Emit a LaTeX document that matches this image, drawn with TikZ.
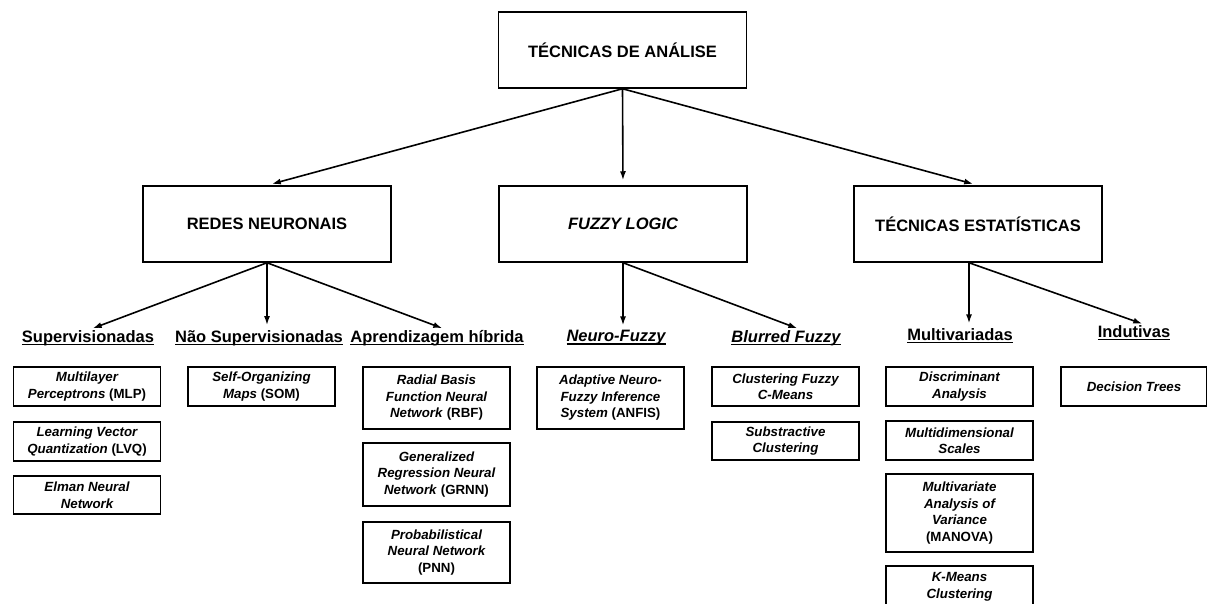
\documentclass[tikz,border=0pt]{standalone}
\usepackage{fontspec}
\setmainfont{Liberation Sans}
\newcommand{\undl}[1]{\setbox0\hbox{#1}\rlap{\rule[-2.8pt]{\wd0}{1.4pt}}\box0}
\usetikzlibrary{arrows.meta,positioning}

\begin{document}
\begin{tikzpicture}[x=1pt, y=-1pt,
  mainbox/.style={draw, line width=1.5pt, minimum width=248pt, minimum height=76pt, inner sep=2pt, font=\fontsize{16.5}{20}\selectfont\bfseries},
  leaf/.style={draw, line width=1.5pt, minimum width=147pt, inner sep=1pt, align=center, font=\fontsize{13.3}{16.5}\selectfont\bfseries\itshape},
  group/.style={inner sep=0pt, font=\fontsize{16.5}{20}\selectfont\bfseries},
  arr/.style={-{Latex[length=9pt,width=6pt]}, line width=1.6pt, shorten >=5pt},
]
\useasboundingbox (0,0) rectangle (1207,603);
\clip (0,0) rectangle (1207,603);

\node[mainbox] (tecnicas) at (622.5,50) {TÉCNICAS DE ANÁLISE};
\node[mainbox] (redes) at (267,224) {REDES NEURONAIS};
\node[mainbox] (fuzzy) at (623,224) {\itshape FUZZY LOGIC};
\node[mainbox] (estat) at (978,224) {TÉCNICAS ESTATÍSTICAS};

\node[group] (superv) at (88,338) {\undl{Supervisionadas}};
\node[group] (naosup) at (259,338) {\undl{Não Supervisionadas}};
\node[group] (hibrida) at (437,338) {\undl{Aprendizagem híbrida}};
\node[group] (neurofz) at (616,338) {\itshape\undl{Neuro-Fuzzy}};
\node[group] (blurred) at (786,338) {\itshape\undl{Blurred Fuzzy}};
\node[group] (multiv) at (960,336) {\undl{Multivariadas}};
\node[group] (indut) at (1134,333) {\undl{Indutivas}};

\node[leaf, minimum height=39pt] (mlp) at (87,386.5) {Multilayer\\Perceptrons \textup{(MLP)}};
\node[leaf, minimum height=39pt] (lvq) at (87,441.5) {Learning Vector\\Quantization \textup{(LVQ)}};
\node[leaf, minimum height=38pt] (elman) at (87,495) {Elman Neural\\Network};
\node[leaf, minimum height=39pt] (som) at (261.5,386.5) {Self-Organizing\\Maps \textup{(SOM)}};
\node[leaf, minimum height=62pt] (rbf) at (436.5,398) {Radial Basis\\Function Neural\\Network \textup{(RBF)}};
\node[leaf, minimum height=63pt] (grnn) at (436.5,474.5) {Generalized\\Regression Neural\\Network \textup{(GRNN)}};
\node[leaf, minimum height=61pt] (pnn) at (436.5,552.5) {Probabilistical\\Neural Network\\\textup{(PNN)}};
\node[leaf, minimum height=62pt] (anfis) at (610.5,398) {Adaptive Neuro-\\Fuzzy Inference\\System \textup{(ANFIS)}};
\node[leaf, minimum height=39pt] (cmeans) at (785.5,386.5) {Clustering Fuzzy\\C-Means};
\node[leaf, minimum height=38pt] (subst) at (785.5,441) {Substractive\\Clustering};
\node[leaf, minimum height=39pt] (discr) at (959.5,386.5) {Discriminant\\Analysis};
\node[leaf, minimum height=39pt] (mdim) at (959.5,440.5) {Multidimensional\\Scales};
\node[leaf, minimum height=78pt] (manova) at (959.5,513) {Multivariate\\Analysis of\\Variance\\\textup{(MANOVA)}};
\node[leaf, minimum height=42pt] (kmeans) at (959.5,587) {K-Means\\Clustering};
\node[leaf, minimum height=39pt, minimum width=146pt] (dtrees) at (1134,386.5) {Decision Trees};

\draw[arr] (tecnicas.south) -- (redes.north);
\draw[arr] (tecnicas.south) -- (fuzzy.north);
\draw[arr] (tecnicas.south) -- (estat.north);

\draw[arr] (redes.south) -- (superv.north);
\draw[arr] (redes.south) -- (redes.south |- naosup.north);
\draw[arr] (redes.south) -- ([xshift=10pt]hibrida.north);

\draw[arr] (fuzzy.south) -- (fuzzy.south |- neurofz.north);
\draw[arr] (fuzzy.south) -- ([xshift=16pt]blurred.north);

\draw[arr] ([xshift=-9pt]estat.south) -- ([xshift=-9pt]estat.south |- multiv.north);
\draw[arr] ([xshift=-9pt]estat.south) -- ([xshift=13pt]indut.north);
\end{tikzpicture}
\end{document}
